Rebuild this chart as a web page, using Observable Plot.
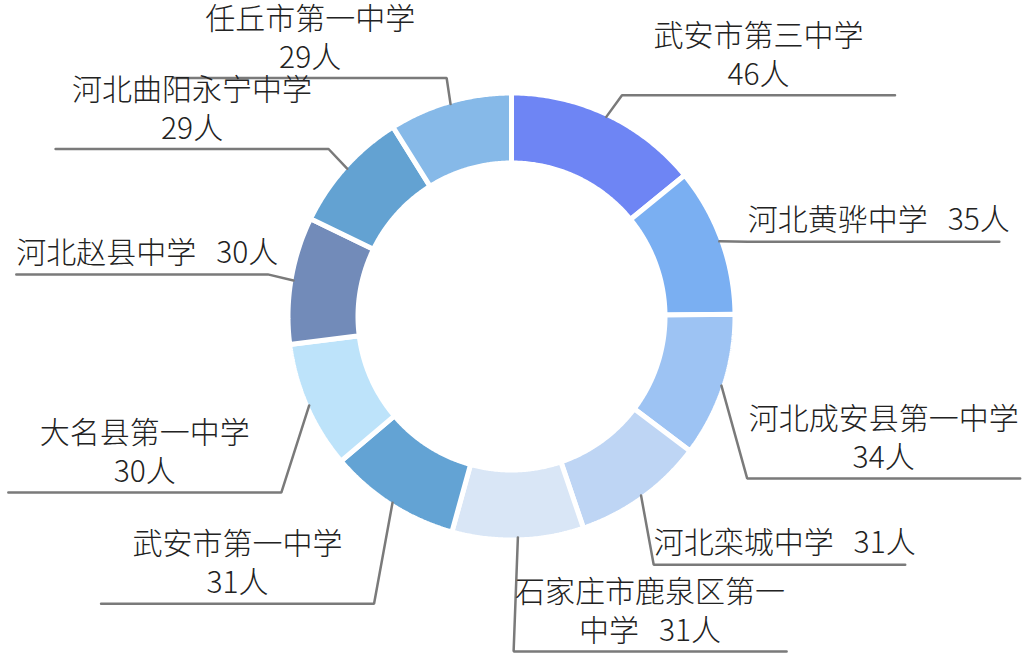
<!DOCTYPE html>
<html>
<head>
<meta charset="utf-8">
<script src="https://cdn.jsdelivr.net/npm/d3@7"></script>
<script src="https://cdn.jsdelivr.net/npm/@observablehq/plot@0.6"></script>
<style>
  html, body { margin: 0; padding: 0; background: #fff; }
  #chart { width: 1031px; height: 665px; }
</style>
</head>
<body>
<div id="chart"></div>
<script>
// ---- data ----
const schools = ["武安市第三中学", "河北黄骅中学", "河北成安县第一中学", "河北栾城中学", "石家庄市鹿泉区第一中学",
                 "武安市第一中学", "大名县第一中学", "河北赵县中学", "河北曲阳永宁中学", "任丘市第一中学"];
const counts = [46, 35, 34, 31, 31, 31, 30, 30, 29, 29];
const unit = "人";

// ---- styling / layout (not data) ----
const palette = ["#6E85F4", "#7AAFF2", "#9DC3F3", "#BED5F4", "#D9E6F6",
                 "#63A3D4", "#BDE3FA", "#728BB9", "#63A2D2", "#86B9E8"];
// label elbow nudges in px [dx, dy] (label collision adjustments)
const labelNudge = [[5, 1], [5, 9], [2, 85], [-2, 49], [-5, 89], [-5, 80], [-5, 77], [-1, -2], [0, -3], [3, -2]];

const W = 1031, H = 665, CX = 511, CY = 316, R = 221;  // R = px per unit (outer radius)
const INNER = 156, GAP = 5, ELBOW_R = 246, WRAP = 275, LINE_LEN = 273;
const FONT = '"Noto Sans CJK SC", "Noto Sans", sans-serif';
const FS = 30;
const SEP = "   ";

const ux = px => (px - CX) / R;
const uy = py => (CY - py) / R;

const rows = schools.map((name, i) => ({name, value: counts[i]}));
const arcs = d3.pie().sort(null).value(d => d.value).startAngle(0).endAngle(2 * Math.PI)(rows);

// slice polygons in data units (center 0,0; outer radius 1)
const rOut = (R + GAP / 2) / R, rIn = (INNER - GAP / 2) / R;
const slicePts = [];
for (const a of arcs) {
  const n = 80, pts = [];
  for (let j = 0; j <= n; j++) {
    const t = a.startAngle + (a.endAngle - a.startAngle) * j / n;
    pts.push({name: a.data.name, x: rOut * Math.sin(t), y: rOut * Math.cos(t)});
  }
  for (let j = n; j >= 0; j--) {
    const t = a.startAngle + (a.endAngle - a.startAngle) * j / n;
    pts.push({name: a.data.name, x: rIn * Math.sin(t), y: rIn * Math.cos(t)});
  }
  pts.push({...pts[0]});
  slicePts.push(...pts);
}

// text measuring / wrapping
const ctx = document.createElement("canvas").getContext("2d");
ctx.font = `300 ${FS}px ${FONT}`;
const mw = s => ctx.measureText(s).width;
function wrap(name, value) {
  const tail = value + unit;
  const full = name + SEP + tail;
  if (mw(full) <= WRAP) return [full];
  const lines = [];
  let cur = "";
  for (const ch of name) {
    if (cur && mw(cur + ch) > WRAP) { lines.push(cur); cur = ch; } else cur += ch;
  }
  if (mw(cur + SEP + tail) <= WRAP) lines.push(cur + SEP + tail);
  else { lines.push(cur); lines.push(tail); }
  return lines;
}

const leaderPts = [];
const textRows = [];
arcs.forEach((a, i) => {
  const mid = (a.startAngle + a.endAngle) / 2;
  const s = Math.sin(mid), c = Math.cos(mid);
  const right = s > 0;
  const sx = CX + R * s, sy = CY - R * c;
  const ex = CX + ELBOW_R * s + labelNudge[i][0], ey = CY - ELBOW_R * c + labelNudge[i][1];
  const lines = wrap(a.data.name, a.data.value);
  const multi = lines.length > 1;
  const len = multi ? LINE_LEN : mw(lines[0]) * 0.96;
  const endX = right ? ex + len : ex - len;
  leaderPts.push({name: a.data.name, x: ux(sx), y: uy(sy)});
  leaderPts.push({name: a.data.name, x: ux(ex), y: uy(ey)});
  leaderPts.push({name: a.data.name, x: ux(endX), y: uy(ey)});
  const minX = Math.min(ex, endX);
  lines.slice().reverse().forEach((t, k) => {
    textRows.push({
      text: t, k,
      x: ux(multi ? (ex + endX) / 2 : minX),
      y: uy(ey),
      anchor: multi ? "middle" : "start"
    });
  });
});

const textMark = (k, anchor, dy) => Plot.text(textRows.filter(d => d.k === k && d.anchor === anchor), {
  x: "x", y: "y", text: "text", textAnchor: anchor, dy,
  fontFamily: FONT, fontSize: FS, fontWeight: 300, fill: "#222"
});

const chart = Plot.plot({
  width: W, height: H,
  margin: 0,
  x: {domain: [ux(0), ux(W)], range: [0, W], axis: null},
  y: {domain: [uy(H), uy(0)], range: [H, 0], axis: null},
  color: {domain: schools, range: palette},
  style: {background: "#fff", fontFamily: FONT},
  marks: [
    Plot.line(slicePts, {x: "x", y: "y", z: "name", fill: "name", stroke: "#fff", strokeWidth: GAP, curve: "linear", strokeLinejoin: "miter"}),
    Plot.line(leaderPts, {x: "x", y: "y", z: "name", stroke: "#7a7a7a", strokeWidth: 2.5, curve: "linear", strokeLinejoin: "miter"}),
    textMark(0, "middle", -20),
    textMark(1, "middle", -59),
    textMark(0, "start", -21)
  ]
});
document.getElementById("chart").appendChild(chart);
</script>
</body>
</html>
